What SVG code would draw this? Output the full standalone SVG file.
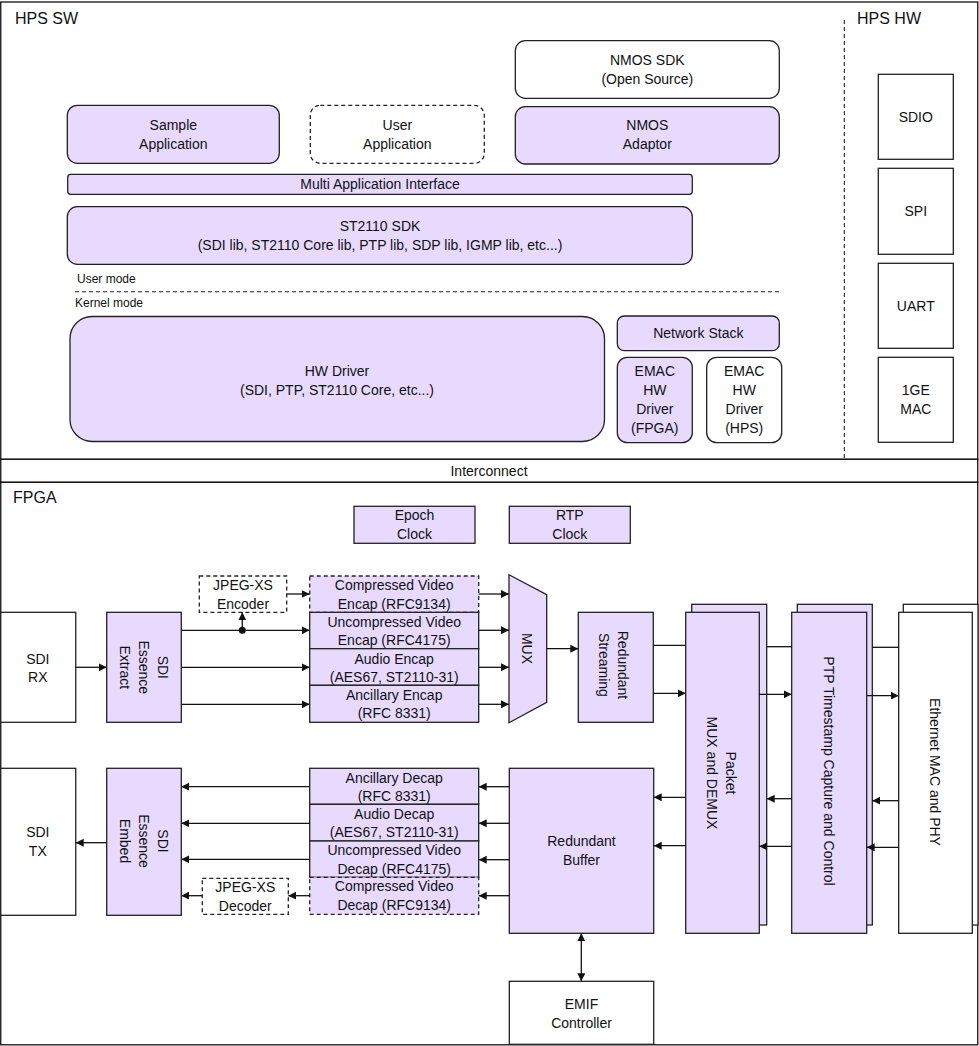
<svg xmlns="http://www.w3.org/2000/svg" width="979" height="1046" viewBox="0 0 979 1046">
<defs>
<marker id="ah" markerUnits="userSpaceOnUse" markerWidth="9" markerHeight="9" refX="8" refY="4" orient="auto-start-reverse" viewBox="0 0 9 9">
<path d="M0,0 L8,4 L0,8 z" fill="#111"/>
</marker>
<style>
.fr{fill:#fff;stroke:#111;stroke-width:1.3}
.p{fill:#E8DAFF;stroke:#222;stroke-width:1.3}
.w{fill:#fff;stroke:#222;stroke-width:1.3}
.ds{stroke-dasharray:4 3}
.dl{stroke:#222;stroke-width:1.1;stroke-dasharray:4 3;fill:none}
text{font-family:"Liberation Sans",Arial,sans-serif;font-size:14px;fill:#111;text-anchor:middle;dominant-baseline:central}
.t{font-size:16px;text-anchor:start;dominant-baseline:alphabetic}
.s{font-size:12px;text-anchor:start}
#conn line{stroke:#111;stroke-width:1.3}
#conn .a{marker-end:url(#ah)}
</style>
</defs>
<rect width="979" height="1046" fill="#fff"/>
<g id="frames">
<rect class="fr" x="0.75" y="2" width="977" height="457.3"/>
<rect class="fr" x="0.75" y="459.3" width="977" height="23"/>
<rect class="fr" x="0.75" y="482.3" width="977" height="562.5"/>
<text class="t" x="15" y="24">HPS SW</text>
<text class="t" x="857" y="24">HPS HW</text>
<text class="t" x="13" y="503">FPGA</text>
<text x="489" y="471">Interconnect</text>
<line class="dl" x1="844.3" y1="20" x2="844.3" y2="459"/>
<line class="dl" x1="75" y1="291.7" x2="780" y2="291.7"/>
<text class="s" x="77" y="279">User mode</text>
<text class="s" x="75" y="303">Kernel mode</text>
</g>
<g id="sample-app"><rect class="p" x="67.3" y="105.3" width="212" height="58" rx="10"/><text x="173.3" y="125">Sample</text><text x="173.3" y="144">Application</text></g>
<g id="user-app"><rect class="w ds" x="310.3" y="105.3" width="174" height="58" rx="10"/><text x="397.3" y="125">User</text><text x="397.3" y="144">Application</text></g>
<g id="nmos-sdk"><rect class="w" x="515.3" y="40.7" width="264" height="57.6" rx="10"/><text x="647.3" y="60">NMOS SDK</text><text x="647.3" y="79">(Open Source)</text></g>
<g id="nmos-adaptor"><rect class="p" x="515.3" y="106.7" width="264" height="57.3" rx="10"/><text x="647.3" y="125">NMOS</text><text x="647.3" y="144">Adaptor</text></g>
<g id="multi-app"><rect class="p" x="67.7" y="174.3" width="624.6" height="20" rx="3"/><text x="380" y="184.3">Multi Application Interface</text></g>
<g id="st2110-sdk"><rect class="p" x="67.3" y="206.7" width="625" height="57.6" rx="10"/><text x="380" y="226">ST2110 SDK</text><text x="380" y="245">(SDI lib, ST2110 Core lib, PTP lib, SDP lib, IGMP lib, etc...)</text></g>
<g id="hw-driver"><rect class="p" x="70" y="316.5" width="534.5" height="125" rx="22"/><text x="337" y="370.7">HW Driver</text><text x="337" y="390">(SDI, PTP, ST2110 Core, etc...)</text></g>
<g id="network-stack"><rect class="p" x="617.3" y="316" width="162" height="34.7" rx="7"/><text x="698.3" y="333.3">Network Stack</text></g>
<g id="emac-fpga"><rect class="p" x="617.3" y="357.3" width="75" height="85.4" rx="10"/><text x="654.8" y="371">EMAC</text><text x="654.8" y="390">HW</text><text x="654.8" y="409">Driver</text><text x="654.8" y="428">(FPGA)</text></g>
<g id="emac-hps"><rect class="w" x="706.7" y="357.3" width="75" height="85.4" rx="10"/><text x="744.2" y="371">EMAC</text><text x="744.2" y="390">HW</text><text x="744.2" y="409">Driver</text><text x="744.2" y="428">(HPS)</text></g>
<g id="sdio"><rect class="w" x="878.3" y="74.3" width="75" height="85"/><text x="915.8" y="116.7">SDIO</text></g>
<g id="spi"><rect class="w" x="878.3" y="168.3" width="75" height="86"/><text x="915.8" y="210.7">SPI</text></g>
<g id="uart"><rect class="w" x="878.3" y="263.3" width="75" height="85"/><text x="915.8" y="305.7">UART</text></g>
<g id="ge-mac"><rect class="w" x="878.3" y="357.3" width="75" height="85"/><text x="915.8" y="390">1GE</text><text x="915.8" y="409">MAC</text></g>
<g id="epoch-clock"><rect class="p" x="354" y="506.3" width="121" height="37"/><text x="414.5" y="515">Epoch</text><text x="414.5" y="534">Clock</text></g>
<g id="rtp-clock"><rect class="p" x="509.3" y="506.3" width="121" height="37"/><text x="569.8" y="515">RTP</text><text x="569.8" y="534">Clock</text></g>
<g id="sdi-rx"><rect class="w" x="0.75" y="612.3" width="75" height="110"/><text x="37.8" y="659">SDI</text><text x="37.8" y="677">RX</text></g>
<g id="sdi-extract"><rect class="p" x="106.7" y="612.3" width="74.6" height="110"/><g transform="translate(143.5,667.3) rotate(90)"><text x="0" y="-19">SDI</text><text x="0" y="0">Essence</text><text x="0" y="19">Extract</text></g></g>
<g id="jpeg-enc"><rect class="w ds" x="199.3" y="576" width="87.4" height="36.3"/><text x="243" y="585">JPEG-XS</text><text x="243" y="604">Encoder</text></g>
<g id="comp-encap"><rect class="p ds" x="309.7" y="576" width="169" height="36.3"/><text x="394.2" y="585">Compressed Video</text><text x="394.2" y="604">Encap (RFC9134)</text></g>
<g id="uncomp-encap"><rect class="p" x="309.7" y="612.3" width="169" height="36.4"/><text x="394.2" y="621.7">Uncompressed Video</text><text x="394.2" y="640">Encap (RFC4175)</text></g>
<g id="audio-encap"><rect class="p" x="309.7" y="648.7" width="169" height="36.6"/><text x="394.2" y="659">Audio Encap</text><text x="394.2" y="677">(AES67, ST2110-31)</text></g>
<g id="anc-encap"><rect class="p" x="309.7" y="685.3" width="169" height="37"/><text x="394.2" y="695">Ancillary Encap</text><text x="394.2" y="713">(RFC 8331)</text></g>
<g id="mux"><path class="p" d="M509,574.7 L546.7,594.7 L546.7,702.3 L509,722.7 Z"/><text transform="translate(527,648.5) rotate(90)" x="0" y="0">MUX</text></g>
<g id="red-stream"><rect class="p" x="578.3" y="612.3" width="75" height="110"/><g transform="translate(613.5,665) rotate(90)"><text x="0" y="-9.5">Redundant</text><text x="0" y="9.5">Streaming</text></g></g>
<g id="packet-mux"><rect class="p" x="691.7" y="604.3" width="75" height="320.7"/><rect class="p" x="685.7" y="612.3" width="73.6" height="321"/><g transform="translate(721.2,773) rotate(90)"><text x="0" y="-9.5">Packet</text><text x="0" y="9.5">MUX and DEMUX</text></g></g>
<g id="ptp"><rect class="p" x="797.3" y="604.3" width="75" height="320.7"/><rect class="p" x="791.7" y="612.3" width="75" height="321"/><text transform="translate(828.8,771) rotate(90)" x="0" y="0">PTP Timestamp Capture and Control</text></g>
<g id="ethernet"><rect class="w" x="903.3" y="604.3" width="74.7" height="320.7"/><rect class="w" x="898.7" y="612.3" width="73.6" height="321"/><text transform="translate(934.5,772) rotate(90)" x="0" y="0">Ethernet MAC and PHY</text></g>
<g id="sdi-tx"><rect class="w" x="0.75" y="768.3" width="75" height="147"/><text x="37.8" y="832">SDI</text><text x="37.8" y="851">TX</text></g>
<g id="sdi-embed"><rect class="p" x="106.7" y="768.3" width="74.6" height="147"/><g transform="translate(143.5,841) rotate(90)"><text x="0" y="-19">SDI</text><text x="0" y="0">Essence</text><text x="0" y="19">Embed</text></g></g>
<g id="anc-decap"><rect class="p" x="309.7" y="768.3" width="169" height="36"/><text x="394.2" y="777.7">Ancillary Decap</text><text x="394.2" y="796">(RFC 8331)</text></g>
<g id="audio-decap"><rect class="p" x="309.7" y="804.3" width="169" height="36.7"/><text x="394.2" y="813.7">Audio Decap</text><text x="394.2" y="832">(AES67, ST2110-31)</text></g>
<g id="uncomp-decap"><rect class="p" x="309.7" y="841" width="169" height="36.3"/><text x="394.2" y="850">Uncompressed Video</text><text x="394.2" y="869">Decap (RFC4175)</text></g>
<g id="comp-decap"><rect class="p ds" x="309.7" y="877.3" width="169" height="37"/><text x="394.2" y="886">Compressed Video</text><text x="394.2" y="905">Decap (RFC9134)</text></g>
<g id="jpeg-dec"><rect class="w ds" x="202.3" y="878.3" width="86" height="36"/><text x="245.3" y="887">JPEG-XS</text><text x="245.3" y="906">Decoder</text></g>
<g id="red-buffer"><rect class="p" x="509.3" y="768.3" width="144.4" height="165"/><text x="581.5" y="841">Redundant</text><text x="581.5" y="860">Buffer</text></g>
<g id="emif"><rect class="w" x="509.3" y="981.3" width="144.4" height="63"/><text x="581.5" y="1004">EMIF</text><text x="581.5" y="1023">Controller</text></g>
<g id="conn">
<line class="a" x1="75.7" y1="667.3" x2="106.7" y2="667.3"/>
<line class="a" x1="181.3" y1="630.3" x2="309.7" y2="630.3"/>
<line class="a" x1="181.3" y1="667.3" x2="309.7" y2="667.3"/>
<line class="a" x1="181.3" y1="704.3" x2="309.7" y2="704.3"/>
<circle cx="242.3" cy="630.3" r="3.5" fill="#111"/>
<line class="a" x1="242.3" y1="630.3" x2="242.3" y2="612.3"/>
<line class="a" x1="286.7" y1="594" x2="309.7" y2="594"/>
<line class="a" x1="478.7" y1="594" x2="509" y2="594"/>
<line class="a" x1="478.7" y1="630.3" x2="509" y2="630.3"/>
<line class="a" x1="478.7" y1="667.3" x2="509" y2="667.3"/>
<line class="a" x1="478.7" y1="704.3" x2="509" y2="704.3"/>
<line class="a" x1="546.7" y1="648.7" x2="578.3" y2="648.7"/>
<line x1="653.3" y1="645.3" x2="685.7" y2="645.3"/>
<line class="a" x1="653.3" y1="693.3" x2="685.7" y2="693.3"/>
<line x1="766.7" y1="646.7" x2="791.7" y2="646.7"/>
<line class="a" x1="759.3" y1="694.3" x2="791.7" y2="694.3"/>
<line x1="872.3" y1="647.3" x2="898.7" y2="647.3"/>
<line class="a" x1="866.7" y1="695.7" x2="898.7" y2="695.7"/>
<line class="a" x1="898.7" y1="800.7" x2="872.3" y2="800.7"/>
<line class="a" x1="898.7" y1="847.3" x2="866.7" y2="847.3"/>
<line class="a" x1="791.7" y1="798.7" x2="766.7" y2="798.7"/>
<line class="a" x1="791.7" y1="846.3" x2="759.3" y2="846.3"/>
<line class="a" x1="685.7" y1="797.3" x2="653.7" y2="797.3"/>
<line class="a" x1="685.7" y1="845.7" x2="653.7" y2="845.7"/>
<line class="a" x1="509.3" y1="786.7" x2="478.7" y2="786.7"/>
<line class="a" x1="509.3" y1="823.3" x2="478.7" y2="823.3"/>
<line class="a" x1="509.3" y1="859.7" x2="478.7" y2="859.7"/>
<line class="a" x1="509.3" y1="895.7" x2="478.7" y2="895.7"/>
<line class="a" x1="309.7" y1="786.7" x2="181.3" y2="786.7"/>
<line class="a" x1="309.7" y1="823.3" x2="181.3" y2="823.3"/>
<line class="a" x1="309.7" y1="859.3" x2="181.3" y2="859.3"/>
<line class="a" x1="309.7" y1="895.7" x2="288.3" y2="895.7"/>
<line class="a" x1="202.3" y1="895.7" x2="181.3" y2="895.7"/>
<line class="a" x1="106.7" y1="842.7" x2="75.7" y2="842.7"/>
<line class="a" x1="581.3" y1="933.3" x2="581.3" y2="981.3" marker-start="url(#ah)"/>
</g>
</svg>
